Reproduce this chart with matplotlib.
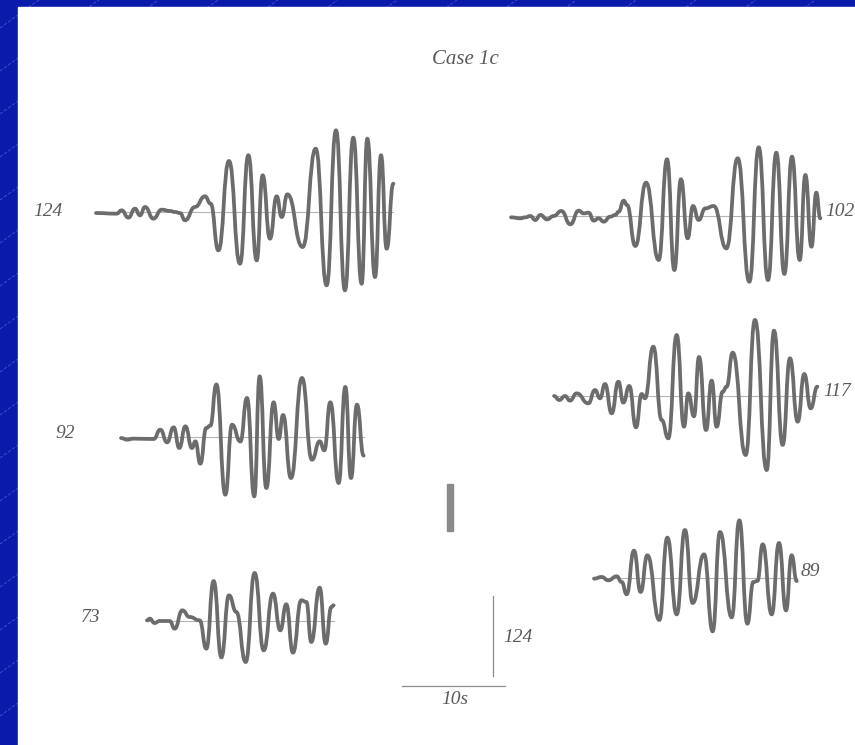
import matplotlib
matplotlib.use("Agg")
import matplotlib.pyplot as plt
from matplotlib.path import Path
from matplotlib.patches import PathPatch, Rectangle

# station traces: time (s) and amplitude, read peak to peak
t_124 = [0.0, 2.0, 2.49, 3.14, 3.79, 4.27, 4.76, 5.57, 6.38, 7.18, 7.67, 8.16, 8.64, 9.61,
         10.58, 11.13, 11.88, 12.91, 13.98, 14.79, 15.60, 16.18, 16.89, 17.54, 18.03, 18.58,
         20.06, 21.33, 22.39, 23.30, 24.17, 24.98, 25.79, 26.34, 27.09, 27.67, 28.22, 28.87]
a_124 = [-1.6, -2.6, 2.6, -8.8, 5.2, -5.2, 7.8, -10.3, 3.6, 1.6, 0.0, -1.6, -12.9, 7.8,
         24.3, 12.9, -59.5, 79.1, -80.2, 88.0, -75.0, 56.9, -41.4, 24.3, -7.8, 27.4,
         -54.3, 98.2, -113.7, 126.7, -121.5, 115.3, -111.2, 113.7, -100.9, 88.0, -56.9, 43.9]

t_102 = [0.0, 0.91, 1.39, 1.88, 2.36, 2.85, 3.50, 4.14, 4.89, 5.76, 6.57, 7.06, 7.54, 8.03,
         8.51, 9.00, 9.64, 10.13, 10.45, 10.94, 11.26, 12.07, 13.11, 14.34, 15.15, 15.86,
         16.50, 17.15, 17.67, 18.22, 18.87, 19.68, 20.91, 22.01, 23.14, 24.05, 24.95, 25.76,
         26.54, 27.28, 28.03, 28.58, 29.17, 29.64, 30.03]
a_102 = [-2.1, -3.6, -2.1, 0.0, -6.2, 1.6, -5.2, 0.0, 7.8, -12.9, 8.3, 4.1, 5.2, -7.2,
         -3.6, -8.8, -1.0, 1.6, 6.7, 23.8, 17.1, -46.5, 51.7, -68.2, 88.0, -83.8,
         56.9, -34.6, 15.5, -6.2, 11.9, 15.5, -50.2, 89.5, -101.9, 106.5, -99.3, 98.2,
         -89.9, 92.0, -68.2, 63.6, -47.6, 36.2, -3.6]

t_92 = [0.0, 0.58, 1.23, 3.17, 3.82, 4.47, 5.11, 5.66, 6.25, 6.89, 7.22, 7.70, 8.28, 8.67,
        9.26, 10.13, 10.78, 11.59, 12.23, 12.94, 13.46, 14.11, 14.82, 15.31, 15.73, 16.50,
        17.57, 18.54, 19.29, 19.74, 20.32, 21.13, 21.78, 22.33, 22.91, 23.56]
a_92 = [-1.6, -4.1, -2.6, -3.1, 11.4, -8.3, 15.0, -17.1, 16.5, -17.1, -6.7, -41.4, 14.0, 17.6,
        81.4, -89.4, 19.1, -7.0, 60.5, -92.1, 94.1, -79.1, 53.8, -3.1, 34.1, -63.6,
        91.5, -35.2, -6.7, -20.7, 53.8, -71.3, 77.6, -63.6, 50.2, -28.9]

t_117 = [0.0, 0.52, 1.07, 1.55, 2.20, 3.33, 3.98, 4.47, 4.95, 5.60, 6.25, 6.73, 7.31, 7.96,
         8.51, 8.83, 9.64, 10.45, 11.10, 11.91, 12.62, 13.04, 13.59, 14.08, 14.76, 15.31,
         15.79, 16.38, 16.76, 17.35, 18.61, 19.51, 20.65, 21.36, 22.20, 22.91, 23.66, 24.30,
         24.92, 25.57]
a_117 = [0.0, -6.2, 0.0, -7.2, 4.1, -11.4, 9.3, -3.6, 18.6, -26.9, 22.2, -10.3, 15.5, -48.6,
         3.1, -3.6, 76.5, -37.2, -65.6, 94.6, -47.6, 4.1, -31.5, 60.5, -52.7, 23.8,
         -47.6, 6.7, 14.5, 67.2, -91.5, 117.9, -114.8, 101.3, -75.8, 58.4, -39.8, 34.1,
         -19.1, 14.5]

t_73 = [0.0, 0.26, 0.74, 1.23, 2.20, 2.69, 3.43, 4.14, 5.11, 5.76, 6.47, 7.22, 7.96, 8.67,
        9.58, 10.45, 11.33, 12.23, 12.94, 13.52, 14.17, 14.98, 15.47, 15.95, 16.76, 17.35,
        17.90, 18.12]
a_73 = [1.0, 3.6, -3.1, 0.0, 0.0, -11.9, 16.5, 6.2, 1.0, -42.9, 62.0, -56.4, 39.8, 14.0,
        -63.6, 74.4, -45.5, 42.4, -14.5, 25.9, -49.1, 32.1, 29.5, -32.6, 51.7, -35.2,
        21.7, 24.3]

t_89 = [0.0, 0.74, 1.39, 2.20, 2.69, 3.17, 3.88, 4.53, 5.18, 6.34, 7.12, 8.03, 8.83, 9.58,
        10.68, 11.52, 12.23, 13.37, 14.11, 14.89, 15.47, 15.86, 16.38, 17.25, 17.96, 18.64,
        19.19, 19.68]
a_89 = [-1.0, 1.6, -3.6, 2.6, -6.2, -25.3, 42.4, -21.7, 35.2, -65.1, 62.6, -56.4, 74.4, -38.8,
        36.7, -82.7, 71.3, -61.0, 89.4, -70.8, -6.2, -4.7, 52.2, -56.4, 54.3, -50.2,
        35.2, -4.7]

labels = ["124", "102", "92", "117", "73", "89"]
times = [t_124, t_102, t_92, t_117, t_73, t_89]
amps = [a_124, a_102, a_92, a_117, a_73, a_89]

W, H = 855, 745
PX_PER_S = 10.3          # 10 s scale bar
PX_PER_UNIT = 80 / 124   # amplitude scale bar

# trace origin (px) and label anchor (px)
origins = [(96, 212), (511, 216), (121, 437), (554, 396), (147, 621), (594, 578)]
label_pos = [(33, 211), (825, 211), (55, 434), (823, 391), (81, 618), (801, 571)]

BLUE = "#0a1aaa"
INK = "#6c6c6c"
TEXT = "#5a5a5a"
serif = ["Liberation Serif", "DejaVu Serif"]

fig = plt.figure(figsize=(W / 100, H / 100), dpi=100)

# slide background
bg = fig.add_axes([0, 0, 1, 1])
bg.set_xlim(0, W)
bg.set_ylim(H, 0)
bg.axis("off")
bg.add_patch(Rectangle((0, 0), W, H, color=BLUE, zorder=0))
for k in range(-2, 40):
    b = 28 + 43 * k
    bg.plot([0, W], [b, b - 0.72 * W], color="#5d6ee0", lw=0.6, alpha=0.7,
            ls=(0, (4, 2)), zorder=1)
bg.add_patch(Rectangle((18, 7), W - 18, H - 7, color="white", zorder=2))

bg.text(465, 59, "Case 1c", fontsize=15, style="italic", family=serif,
        color=TEXT, ha="center", va="center", zorder=5)
for lab, (x, y) in zip(labels, label_pos):
    bg.text(x, y, lab, fontsize=14, style="italic", family=serif, color=TEXT,
            ha="left", va="center", zorder=5)
bg.text(503, 638, "124", fontsize=14, style="italic", family=serif, color=TEXT,
        ha="left", va="center", zorder=5)
bg.text(455, 699, "10s", fontsize=14, style="italic", family=serif, color=TEXT,
        ha="center", va="center", zorder=5)
bg.add_patch(Rectangle((447, 484), 6, 47, color="#8a8a8a", zorder=5))

# traces in seconds / amplitude units
ax = fig.add_axes([0, 0, 1, 1])
ax.set_xlim(0, W / PX_PER_S)
ax.set_ylim(-H / PX_PER_UNIT, 0)
ax.patch.set_alpha(0)
ax.axis("off")


def smooth_path(xs, ys, k=0.5):
    verts = [(xs[0], ys[0])]
    codes = [Path.MOVETO]
    for i in range(1, len(xs)):
        dx = xs[i] - xs[i - 1]
        verts += [(xs[i - 1] + k * dx, ys[i - 1]), (xs[i] - k * dx, ys[i]), (xs[i], ys[i])]
        codes += [Path.CURVE4] * 3
    return Path(verts, codes)


for (px, py), t, a in zip(origins, times, amps):
    t0 = px / PX_PER_S
    y0 = -py / PX_PER_UNIT
    xs = [t0 + v for v in t]
    ys = [y0 + v for v in a]
    ax.plot([xs[0], xs[-1]], [y0, y0], color="#b5b5b5", lw=0.8, zorder=3)
    ax.add_patch(PathPatch(smooth_path(xs, ys), fill=False, edgecolor=INK, lw=2.7,
                           capstyle="round", joinstyle="round", zorder=4))

# scale bars: 124 units, 10 s
sx = 493 / PX_PER_S
sy = -676 / PX_PER_UNIT
ax.plot([sx, sx], [sy, sy + 124], color="#8a8a8a", lw=0.9, zorder=4)
hx = 402 / PX_PER_S
hy = -686 / PX_PER_UNIT
ax.plot([hx, hx + 10], [hy, hy], color="#8a8a8a", lw=0.9, zorder=4)

fig.savefig("out.png", dpi=100)
